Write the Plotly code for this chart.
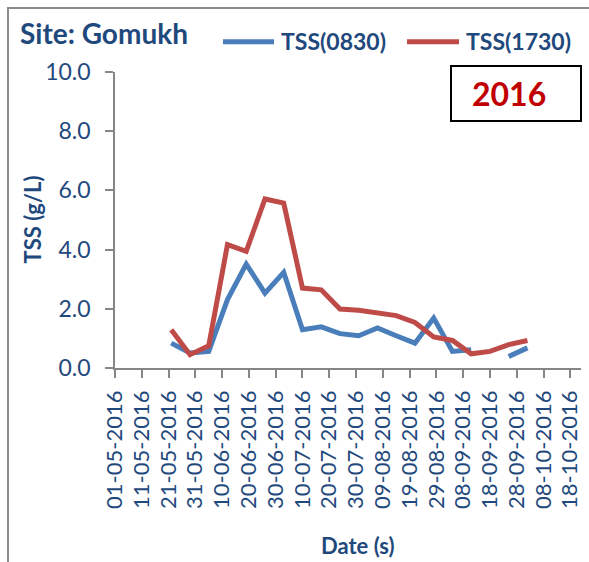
import plotly.graph_objects as go

# ---------------- data ----------------
dates = ["2016-05-22", "2016-05-29", "2016-06-05", "2016-06-12", "2016-06-19",
         "2016-06-26", "2016-07-03", "2016-07-10", "2016-07-17", "2016-07-24",
         "2016-07-31", "2016-08-07", "2016-08-14", "2016-08-21", "2016-08-28",
         "2016-09-04", "2016-09-11", "2016-09-18", "2016-09-25", "2016-10-02"]
tss_0830 = [0.84, 0.51, 0.56, 2.31, 3.51, 2.53, 3.23, 1.29, 1.39, 1.16,
            1.09, 1.35, 1.09, 0.84, 1.69, 0.56, 0.62, None, 0.39, 0.68]
tss_1730 = [1.29, 0.45, 0.75, 4.17, 3.94, 5.71, 5.57, 2.70, 2.64, 1.99,
            1.95, 1.88, 1.77, 1.54, 1.05, 0.93, 0.48, 0.56, 0.79, 0.93]
x_tick_vals = ["2016-05-01", "2016-05-11", "2016-05-21", "2016-05-31", "2016-06-10",
               "2016-06-20", "2016-06-30", "2016-07-10", "2016-07-20", "2016-07-30",
               "2016-08-09", "2016-08-19", "2016-08-29", "2016-09-08", "2016-09-18",
               "2016-09-28", "2016-10-08", "2016-10-18"]
x_tick_labels = ["01-05-2016", "11-05-2016", "21-05-2016", "31-05-2016", "10-06-2016",
                 "20-06-2016", "30-06-2016", "10-07-2016", "20-07-2016", "30-07-2016",
                 "09-08-2016", "19-08-2016", "29-08-2016", "08-09-2016", "18-09-2016",
                 "28-09-2016", "08-10-2016", "18-10-2016"]
y_tick_vals = [0, 2, 4, 6, 8, 10]
series_names = ["TSS(0830)", "TSS(1730)"]

# ---------------- style ----------------
W, H = 589, 562
L, R, T, B = 115, 581, 72, 368
TXT = "#1F497D"
BLUE = "#4A7EBB"
RED = "#BE4B48"
AX = "#868686"
FONT = "Lato"


def px(x):
    return (x - L) / (R - L)


def py(y):
    return (B - y) / (B - T)


fig = go.Figure()
fig.add_trace(go.Scatter(x=dates, y=tss_0830, mode="lines", name=series_names[0],
                         line=dict(color=BLUE, width=5), connectgaps=False))
fig.add_trace(go.Scatter(x=dates, y=tss_1730, mode="lines", name=series_names[1],
                         line=dict(color=RED, width=5)))

fig.update_layout(
    width=W, height=H,
    margin=dict(l=L, r=W - R, t=T, b=H - B, pad=0),
    paper_bgcolor="white", plot_bgcolor="white",
    showlegend=False,
    font=dict(family=FONT, color=TXT),
)
fig.update_xaxes(
    type="date", range=["2016-05-01", "2016-10-22"],
    tickmode="array", tickvals=x_tick_vals, ticktext=x_tick_labels,
    tickangle=-90, tickfont=dict(family=FONT, size=22, color=TXT),
    ticks="outside", ticklen=8, tickwidth=1.5, tickcolor=AX,
    showline=True, linecolor=AX, linewidth=1.5,
    showgrid=False, zeroline=False, ticklabelstandoff=4,
)
fig.update_yaxes(
    range=[0, 10], tickmode="array", tickvals=y_tick_vals,
    tickformat=".1f", tickfont=dict(family=FONT, size=23, color=TXT),
    ticks="outside", ticklen=8, tickwidth=1.5, tickcolor=AX,
    showline=True, linecolor=AX, linewidth=1.5,
    showgrid=False, zeroline=False, ticklabelstandoff=10,
)

shapes = [
    # outer chart border
    dict(type="rect", xref="paper", yref="paper", x0=px(8), x1=px(620), y0=py(620), y1=py(8),
         line=dict(color="#8C8C8C", width=2), fillcolor="rgba(0,0,0,0)", layer="below"),
    # year box
    dict(type="rect", xref="paper", yref="paper", x0=px(451), x1=px(581), y0=py(121), y1=py(66),
         line=dict(color="black", width=2), fillcolor="white"),
    # legend swatches
    dict(type="line", xref="paper", yref="paper", x0=px(223), x1=px(274), y0=py(41.7), y1=py(41.7),
         line=dict(color=BLUE, width=5)),
    dict(type="line", xref="paper", yref="paper", x0=px(407), x1=px(459), y0=py(41.7), y1=py(41.7),
         line=dict(color=RED, width=5)),
]

annotations = [
    dict(text="<b>Site: Gomukh</b>", x=px(18), y=py(33), xref="paper", yref="paper",
         xanchor="left", yanchor="middle", showarrow=False,
         font=dict(family=FONT, size=28, color=TXT)),
    dict(text="<b>" + series_names[0] + "</b>", x=px(279), y=py(41.5), xref="paper", yref="paper",
         xanchor="left", yanchor="middle", showarrow=False,
         font=dict(family=FONT, size=23, color=TXT)),
    dict(text="<b>" + series_names[1] + "</b>", x=px(464), y=py(41.5), xref="paper", yref="paper",
         xanchor="left", yanchor="middle", showarrow=False,
         font=dict(family=FONT, size=23, color=TXT)),
    dict(text="<b>2016</b>", x=px(508.5), y=py(93), xref="paper", yref="paper",
         xanchor="center", yanchor="middle", showarrow=False,
         font=dict(family=FONT, size=32, color="#C00000")),
    dict(text="<b>TSS (g/L)</b>", x=px(31.5), y=py(220), xref="paper", yref="paper",
         xanchor="center", yanchor="middle", showarrow=False, textangle=-90,
         font=dict(family=FONT, size=22, color=TXT)),
    dict(text="<b>Date (s)</b>", x=px(358), y=py(545), xref="paper", yref="paper",
         xanchor="center", yanchor="middle", showarrow=False,
         font=dict(family=FONT, size=22, color=TXT)),
]
fig.update_layout(shapes=shapes, annotations=annotations)

fig.write_html("out.html", config={"displayModeBar": False},
               post_script="document.body.style.margin='0';document.body.style.overflow='hidden';")
